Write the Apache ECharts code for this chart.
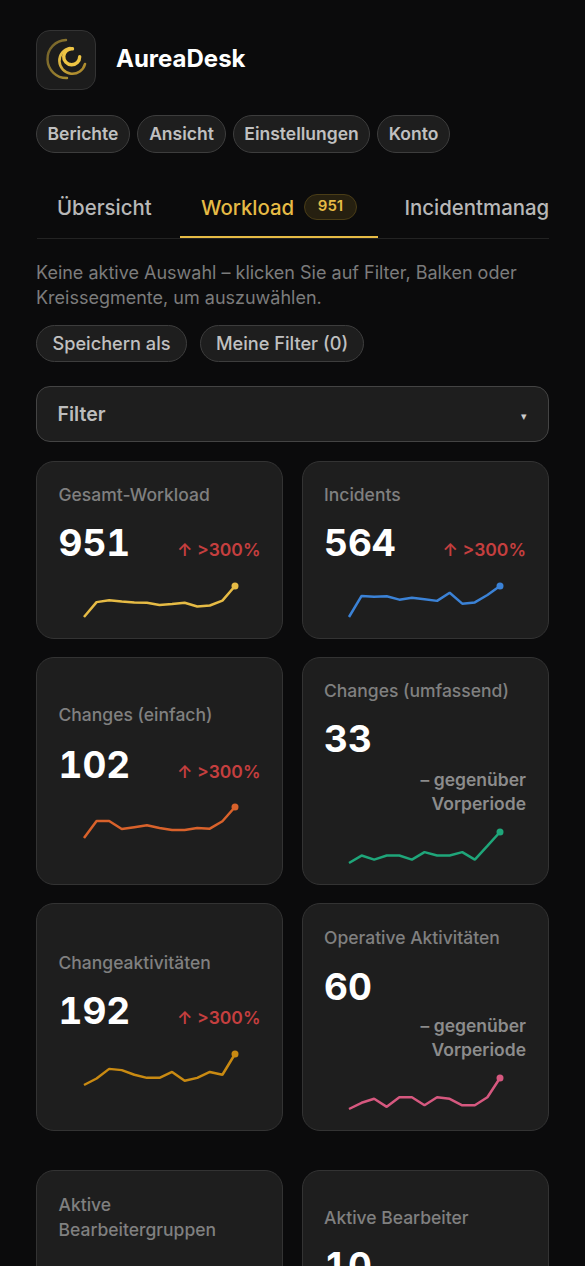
<!DOCTYPE html>
<html lang="de">
<head>
<meta charset="utf-8">
<title>AureaDesk</title>
<script src="https://cdn.jsdelivr.net/npm/echarts@6/dist/echarts.min.js"></script>
<style>
  html, body { margin: 0; padding: 0; background: #0b0b0c; width: 585px; height: 1266px; overflow: hidden; font-family: Inter, sans-serif; }
  #page { position: relative; width: 585px; height: 1266px; overflow: hidden; }
  .t { position: absolute; white-space: nowrap; }
  .logo { position: absolute; left: 36px; top: 30px; width: 60px; height: 60px; box-sizing: border-box; border: 1px solid #333; border-radius: 14px; background: #1c1c1c; }
  .brand { left: 116px; top: 44px; font-size: 24px; line-height: 30px; font-weight: 700; color: #fff; }
  .pill { position: absolute; box-sizing: border-box; border: 1px solid #3d3d3d; border-radius: 19px; background: #1e1e1e; color: #c0c0c0; font-weight: 600; text-align: center; }
  .tab { top: 195px; font-size: 20.4px; line-height: 26px; font-weight: 500; color: #b8b8b8; }
  .hint { left: 36px; font-size: 18px; line-height: 26px; color: #7c7c7c; }
  .card { position: absolute; box-sizing: border-box; border: 1px solid #333; border-radius: 18px; background: #1e1e1e; }
  .title { font-size: 17.5px; line-height: 26px; font-weight: 500; color: #808080; }
  .num { font-size: 37px; line-height: 46px; font-weight: 700; color: #fff; font-variant-numeric: tabular-nums; font-feature-settings: "tnum"; }
  .delta { font-size: 17.5px; line-height: 24px; font-weight: 600; color: #c53f3f; }
  .flat { font-size: 17.5px; line-height: 24px; font-weight: 600; color: #8c8c8c; text-align: right; }
  .spark { position: absolute; width: 171px; height: 41px; }
</style>
</head>
<body>
<div id="page">
  <div class="logo">
    <svg width="58" height="58" viewBox="0 0 58 58">
      <defs>
        <linearGradient id="g1" x1="0" y1="0" x2="1" y2="1"><stop offset="0" stop-color="#6f5f2a"/><stop offset="1" stop-color="#a88c30"/></linearGradient>
        <linearGradient id="g2" x1="0" y1="0" x2="1" y2="1"><stop offset="0" stop-color="#f0c94a"/><stop offset="1" stop-color="#a07f28"/></linearGradient>
      </defs>
      <path d="M29 9 A 19 19 0 1 0 30 47" fill="none" stroke="url(#g1)" stroke-width="2.4" stroke-linecap="round"/>
      <path d="M33 17 A 13 13 0 1 0 48 33" fill="none" stroke="url(#g2)" stroke-width="2.6" stroke-linecap="round"/>
      <path d="M35.5 17.8 A 8 8 0 1 0 42.7 25.7" fill="none" stroke="#eec544" stroke-width="3.4" stroke-linecap="round"/>
    </svg>
  </div>
  <div class="t brand">AureaDesk</div>

  <div class="pill" style="left:36px;top:115px;width:94px;height:38px;line-height:36px;font-size:17.5px">Berichte</div>
  <div class="pill" style="left:137px;top:115px;width:89px;height:38px;line-height:36px;font-size:17.5px">Ansicht</div>
  <div class="pill" style="left:233px;top:115px;width:137px;height:38px;line-height:36px;font-size:17.5px">Einstellungen</div>
  <div class="pill" style="left:377px;top:115px;width:73px;height:38px;line-height:36px;font-size:17.5px">Konto</div>

  <div class="t tab" style="left:57px">Übersicht</div>
  <div class="t tab" style="left:201px;color:#e6bb45">Workload</div>
  <div style="position:absolute;left:304px;top:194px;width:53px;height:26px;box-sizing:border-box;border:1px solid #4a3d17;border-radius:13px;background:#262010;color:#e6bb45;font-size:15px;font-weight:600;line-height:22px;text-align:center">951</div>
  <div style="position:absolute;left:37px;top:195px;width:512px;height:26px;overflow:hidden"><div class="t tab" style="top:0;left:367.5px">Incidentmanagement</div></div>
  <div style="position:absolute;left:37px;top:238px;width:512px;height:1px;background:#232323"></div>
  <div style="position:absolute;left:180px;top:236px;width:198px;height:2px;background:#e6bb45"></div>

  <div class="t hint" style="top:260px">Keine aktive Auswahl – klicken Sie auf Filter, Balken oder</div>
  <div class="t hint" style="top:285px">Kreissegmente, um auszuwählen.</div>

  <div class="pill" style="left:36px;top:325px;width:151px;height:37px;line-height:34px;font-size:18.2px;font-weight:500">Speichern als</div>
  <div class="pill" style="left:200px;top:325px;width:164px;height:37px;line-height:34px;font-size:18.2px;font-weight:500">Meine Filter (0)</div>

  <div class="card" style="left:36px;top:386px;width:513px;height:56px;border-radius:14px;border-color:#444"></div>
  <div class="t" style="left:57.5px;top:401px;font-size:19.5px;line-height:26px;font-weight:600;color:#bdbdbd">Filter</div>
  <div class="t" style="left:521px;top:409px;font-size:11px;line-height:14px;color:#ccc">▾</div>

  <div class="card" style="left:36px;top:461px;width:247px;height:178px"></div>
  <div class="card" style="left:302px;top:461px;width:247px;height:178px"></div>
  <div class="card" style="left:36px;top:657px;width:247px;height:228px"></div>
  <div class="card" style="left:302px;top:657px;width:247px;height:228px"></div>
  <div class="card" style="left:36px;top:903px;width:247px;height:228px"></div>
  <div class="card" style="left:302px;top:903px;width:247px;height:228px"></div>
  <div class="card" style="left:36px;top:1170px;width:247px;height:228px"></div>
  <div class="card" style="left:302px;top:1170px;width:247px;height:228px"></div>

  <div class="t title" id="title0" style="left:58.5px;top:482px"></div>
  <div class="t num" id="num0" style="left:58.5px;top:520px"></div>
  <div class="t delta" id="delta0" style="right:324.5px;top:538px"></div>
  <div class="spark" id="spark0" style="left:74px;top:581px"></div>

  <div class="t title" id="title1" style="left:324px;top:482px"></div>
  <div class="t num" id="num1" style="left:324px;top:520px"></div>
  <div class="t delta" id="delta1" style="right:59px;top:538px"></div>
  <div class="spark" id="spark1" style="left:339px;top:581px"></div>

  <div class="t title" id="title2" style="left:58.5px;top:702px"></div>
  <div class="t num" id="num2" style="left:58.5px;top:742px"></div>
  <div class="t delta" id="delta2" style="right:324.5px;top:760px"></div>
  <div class="spark" id="spark2" style="left:74px;top:802px"></div>

  <div class="t title" id="title3" style="left:324px;top:678px"></div>
  <div class="t num" id="num3" style="left:324px;top:716px"></div>
  <div class="t flat" id="delta3" style="right:59px;top:768px"></div>
  <div class="spark" id="spark3" style="left:339px;top:827px"></div>

  <div class="t title" id="title4" style="left:58.5px;top:950px"></div>
  <div class="t num" id="num4" style="left:58.5px;top:988px"></div>
  <div class="t delta" id="delta4" style="right:324.5px;top:1006px"></div>
  <div class="spark" id="spark4" style="left:74px;top:1049px"></div>

  <div class="t title" id="title5" style="left:324px;top:925px"></div>
  <div class="t num" id="num5" style="left:324px;top:964px"></div>
  <div class="t flat" id="delta5" style="right:59px;top:1014px"></div>
  <div class="spark" id="spark5" style="left:339px;top:1073px"></div>

  <div class="t title" style="left:58.5px;top:1192px">Aktive</div>
  <div class="t title" style="left:58.5px;top:1217px">Bearbeitergruppen</div>
  <div class="t num" style="left:58.5px;top:1257px">8</div>
  <div class="t title" style="left:324px;top:1205px">Aktive Bearbeiter</div>
  <div class="t num" style="left:324px;top:1243px">10</div>
</div>

<script>
const cardTitles = ['Gesamt-Workload', 'Incidents', 'Changes (einfach)', 'Changes (umfassend)', 'Changeaktivitäten', 'Operative Aktivitäten'];
const cardValues = ['951', '564', '102', '33', '192', '60'];
const cardDeltas = ['↑ >300%', '↑ >300%', '↑ >300%', '– gegenüber<br>Vorperiode', '↑ >300%', '– gegenüber<br>Vorperiode'];

// 13 Perioden, Werte als Index 0-100
const periods = ['1', '2', '3', '4', '5', '6', '7', '8', '9', '10', '11', '12', '13'];
const workload = [0, 48, 54, 50, 47, 46, 39, 42, 46, 34, 37, 53, 100];
const incidents = [0, 68, 65, 67, 56, 62, 57, 52, 78, 43, 47, 71, 100];
const changesEinfach = [0, 55, 55, 29, 35, 41, 32, 26, 26, 32, 30, 54, 100];
const changesUmfassend = [0, 24, 11, 24, 24, 11, 35, 24, 24, 35, 11, 55, 100];
const changeAktivitaeten = [0, 21, 52, 48, 33, 23, 23, 42, 14, 23, 42, 33, 100];
const operativeAktivitaeten = [0, 20, 33, 7, 38, 38, 12, 38, 33, 12, 12, 38, 100];

const seriesList = [workload, incidents, changesEinfach, changesUmfassend, changeAktivitaeten, operativeAktivitaeten];
const colors = ['#e6bb45', '#3b82d6', '#d9622b', '#1fa67a', '#c98a12', '#d6587f'];

seriesList.forEach(function (values, i) {
    document.getElementById('title' + i).textContent = cardTitles[i];
    document.getElementById('num' + i).textContent = cardValues[i];
    document.getElementById('delta' + i).innerHTML = cardDeltas[i];

    const chart = echarts.init(document.getElementById('spark' + i), null, { renderer: 'canvas' });
    chart.setOption({
        animation: false,
        grid: { left: 10, right: 10, top: 5, bottom: 5 },
        xAxis: { type: 'category', data: periods, boundaryGap: false, show: false },
        yAxis: { type: 'value', min: 0, max: 100, show: false },
        series: [{
            type: 'line',
            showAllSymbol: true,
            lineStyle: { color: colors[i], width: 2.5 },
            itemStyle: { color: colors[i] },
            data: values.map(function (v, idx) {
                return idx === values.length - 1
                    ? { value: v, symbol: 'circle', symbolSize: 7 }
                    : { value: v, symbol: 'none' };
            })
        }]
    });
});
</script>
</body>
</html>
